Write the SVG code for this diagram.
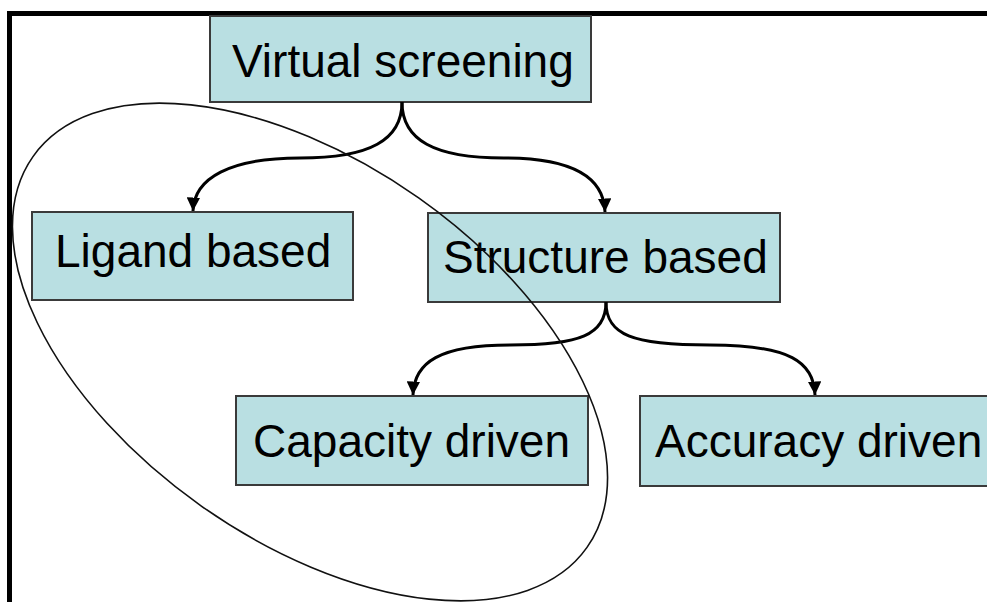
<svg xmlns="http://www.w3.org/2000/svg" width="987" height="602" viewBox="0 0 987 602">
<style>
.box{fill:#B9DFE2;stroke:#3a3a3a;stroke-width:2}
.lbl{font-family:"Liberation Sans",Arial,sans-serif;font-size:46px;fill:#000}
.con{fill:none;stroke:#000;stroke-width:3}
</style>
<defs>
<marker id="ah" viewBox="0 0 10 10" refX="10" refY="5" markerWidth="4.5" markerHeight="4.5" orient="auto" markerUnits="strokeWidth">
<path d="M0,0 L10,5 L0,10 z" fill="#000"/>
</marker>
</defs>
<rect x="0" y="0" width="987" height="602" fill="#fff"/>
<g id="frame" fill="none" stroke="#000" stroke-width="5">
<path d="M9.5,602 L9.5,13.5 L987,13.5"/>
</g>
<g id="n-virtual">
<rect class="box" x="210" y="16" width="381" height="86"/>
<text class="lbl" x="232" y="77">Virtual screening</text>
</g>
<g id="n-ligand">
<rect class="box" x="32" y="212" width="321" height="88"/>
<text class="lbl" x="55" y="267">Ligand based</text>
</g>
<g id="n-structure">
<rect class="box" x="428" y="213" width="352" height="89"/>
<text class="lbl" x="443" y="273">Structure based</text>
</g>
<g id="n-capacity">
<rect class="box" x="236" y="396" width="352" height="89"/>
<text class="lbl" x="253" y="457">Capacity driven</text>
</g>
<g id="n-accuracy">
<rect class="box" x="640" y="396" width="360" height="90"/>
<text class="lbl" x="655" y="457">Accuracy driven</text>
</g>
<g id="connectors" class="con">
<path class="con" marker-end="url(#ah)" d="M402,102 C402,140 370,158 300,158 C230,158 194,178 193,211"/>
<path class="con" marker-end="url(#ah)" d="M402,102 C402,140 434,158 504,158 C574,158 604,178 605,212"/>
<path class="con" marker-end="url(#ah)" d="M606,302 C606,335 580,345 510,345 C440,345 414,362 413,395"/>
<path class="con" marker-end="url(#ah)" d="M606,302 C606,335 632,345 710,345 C790,345 814,362 815,395"/>
</g>
<g id="ellipse">
<ellipse cx="310" cy="352" rx="339" ry="188.5" transform="rotate(35.2 310 352)" fill="none" stroke="#111" stroke-width="1.6"/>
</g>
</svg>
